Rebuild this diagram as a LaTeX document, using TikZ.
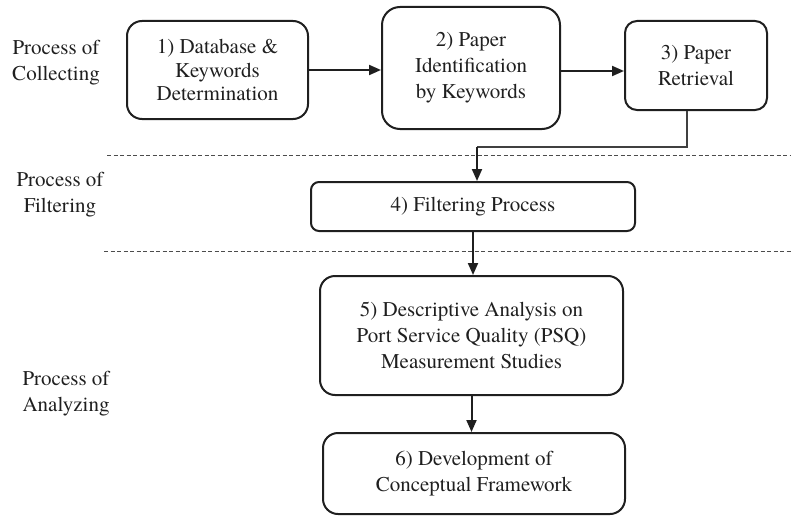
\documentclass[tikz,border=0pt]{standalone}
\usepackage{fontspec}
\setmainfont{texgyretermes}[Extension=.otf, UprightFont=*-regular, BoldFont=*-bold]
\usetikzlibrary{arrows.meta}
\begin{document}
\begin{tikzpicture}[
    x=1pt, y=-1pt,
    every node/.style={font=\rmfamily\fontsize{21}{26}\selectfont, align=center, inner sep=0pt, text=black!88},
    stagebox/.style={draw=black!88, line width=2pt, rounded corners=#1},
    stagebox/.default=14pt,
    phase/.style={},
    flow/.style={draw=black!88, line width=2pt, -{Triangle[length=12pt,width=10pt]}},
    link/.style={draw=black!75, line width=1.2pt},
    divider/.style={draw=black!70, line width=0.9pt, dash pattern=on 4pt off 2.5pt}
    ]
    \useasboundingbox (0,0) rectangle (791,516);
    % phase labels
    \node[phase] (collect) at (56,62.5) {Process of\\Collecting};
    \node[phase] (filter) at (60,195) {Process of\\Filtering};
    \node[phase] (analyze) at (66,394) {Process of\\Analyzing};
    % stage boxes
    \node[stagebox=15pt, minimum width=181, minimum height=98, font=\rmfamily\fontsize{21}{23.5}\selectfont] (db) at (217.5,70) {1) Database \&\\Keywords\\Determination};
    \node[stagebox=18pt, minimum width=178, minimum height=122] (ident) at (471,68) {2) Paper\\Identification\\by Keywords};
    \node[stagebox=12pt, minimum width=142, minimum height=89] (retr) at (696,65.5) {3) Paper\\Retrieval};
    \node[stagebox=8pt, minimum width=324, minimum height=49] (filt) at (473,206.5) {4) Filtering Process};
    \node[stagebox=15pt, minimum width=303, minimum height=119] (desc) at (471.5,335.5) {5) Descriptive Analysis on\\Port Service Quality (PSQ)\\Measurement Studies};
    \node[stagebox=15pt, minimum width=302, minimum height=81] (dev) at (474,473.5) {6) Development of\\Conceptual Framework};
    % dividers
    \draw[divider] (107,155) -- (791,155);
    \draw[divider] (104,251) -- (791,251);
    % connectors
    \coordinate (bend) at (477,147);
    \draw[flow] (db.east) -- (db.east -| ident.west);
    \draw[flow] ([yshift=-3pt]ident.east) -- ([yshift=-3pt]ident.east -| retr.west);
    \draw[link] ([xshift=-9pt]retr.south) |- (bend);
    \draw[flow] (bend) -- (bend |- filt.north);
    \draw[flow] (filt.south) -- (filt.south |- desc.north);
    \draw[flow] (desc.south) -- (desc.south |- dev.north);
\end{tikzpicture}
\end{document}
